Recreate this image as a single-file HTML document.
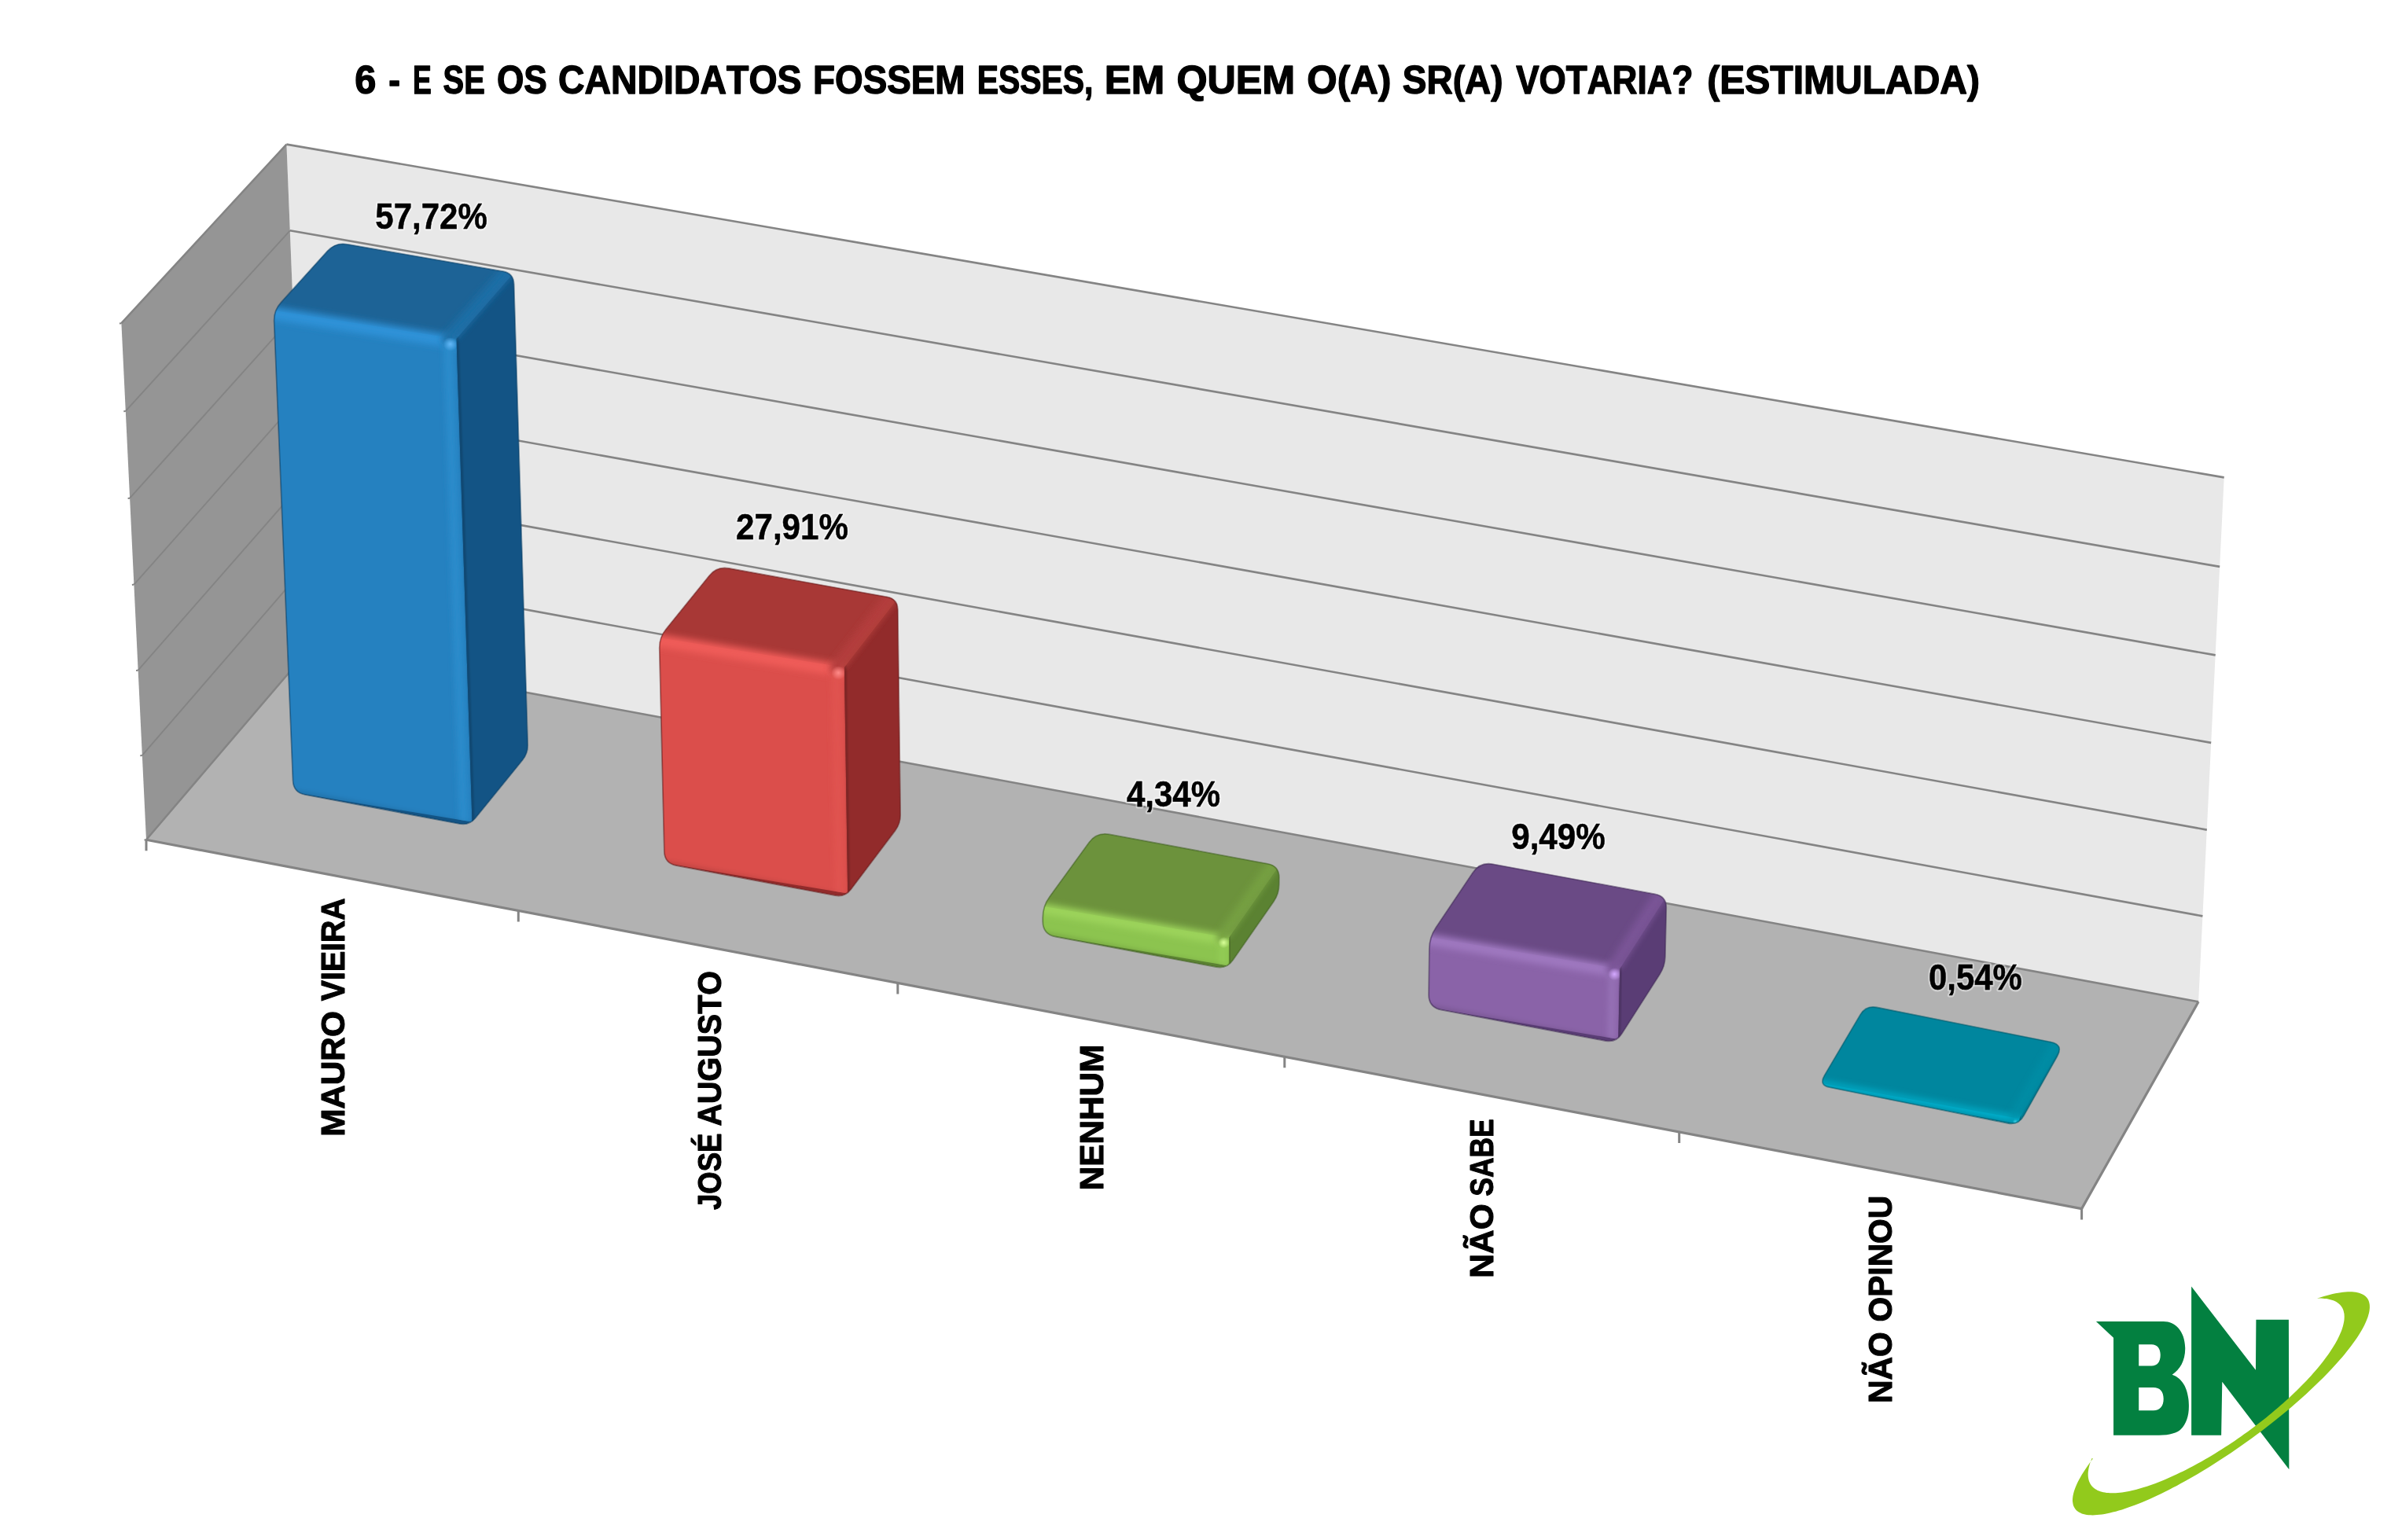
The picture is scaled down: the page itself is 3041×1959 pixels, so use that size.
<!DOCTYPE html>
<html><head><meta charset="utf-8"><style>html,body{margin:0;padding:0;background:#fff;overflow:hidden}svg{display:block}</style></head>
<body><svg width="3041" height="1959" viewBox="0 0 3041 1959">
<defs><clipPath id="c1"><path d="M388.3,1010.4Q373.2,1007.6 372.6,992.2L348.7,408.6Q348.1,394.6 357.5,384.2L416.3,319.1Q426.6,307.6 441.8,310.3L639.4,344.7Q653.2,347.1 653.6,361.1L671.1,946.6Q671.5,957.8 664.4,966.5L604.7,1040.0Q596.8,1049.8 584.4,1047.4Z"/></clipPath><clipPath id="c2"><polygon points="373.2,1007.6 600.5,1045.1 580.5,430.4 348.1,394.6"/></clipPath><clipPath id="c3"><polygon points="373.2,1007.6 600.5,1045.1 580.5,430.4 348.1,394.6 580.5,430.4 653.2,347.1 426.6,307.6 348.1,394.6"/></clipPath><radialGradient id="s4"><stop offset="0" stop-color="#62b8f8" stop-opacity="1"/><stop offset="0.5" stop-color="#62b8f8" stop-opacity="0.5"/><stop offset="1" stop-color="#62b8f8" stop-opacity="0"/></radialGradient><clipPath id="c5"><path d="M860.4,1099.5Q845.2,1096.6 844.9,1081.2L838.8,823.7Q838.4,809.7 847.2,798.8L902.2,730.7Q911.9,718.8 927.0,721.5L1127.9,757.8Q1141.6,760.3 1141.8,774.3L1145.1,1035.0Q1145.2,1046.2 1138.5,1055.1L1082.1,1129.9Q1074.5,1139.9 1062.2,1137.6Z"/></clipPath><clipPath id="c6"><polygon points="845.2,1096.6 1078.2,1135.1 1073.9,847.4 838.4,809.7"/></clipPath><clipPath id="c7"><polygon points="845.2,1096.6 1078.2,1135.1 1073.9,847.4 838.4,809.7 1073.9,847.4 1141.6,760.3 911.9,718.8 838.4,809.7"/></clipPath><radialGradient id="s8"><stop offset="0" stop-color="#ff8a88" stop-opacity="1"/><stop offset="0.5" stop-color="#ff8a88" stop-opacity="0.5"/><stop offset="1" stop-color="#ff8a88" stop-opacity="0"/></radialGradient><clipPath id="c9"><path d="M1342.6,1190.5Q1326.4,1187.4 1326.3,1170.9L1326.3,1166.8Q1326.2,1151.8 1335.0,1139.7L1385.1,1070.7Q1394.8,1057.4 1411.0,1060.4L1612.1,1097.8Q1626.9,1100.5 1626.8,1115.5L1626.7,1124.0Q1626.7,1136.0 1619.8,1145.9L1567.9,1220.5Q1560.2,1231.6 1546.9,1229.1Z"/></clipPath><clipPath id="c10"><polygon points="1326.4,1187.4 1562.9,1227.6 1563.0,1191.9 1326.2,1151.8"/></clipPath><clipPath id="c11"><polygon points="1326.4,1187.4 1562.9,1227.6 1563.0,1191.9 1326.2,1151.8 1563.0,1191.9 1626.9,1100.5 1394.8,1057.4 1326.2,1151.8"/></clipPath><radialGradient id="s12"><stop offset="0" stop-color="#d8ff98" stop-opacity="1"/><stop offset="0.5" stop-color="#d8ff98" stop-opacity="0.5"/><stop offset="1" stop-color="#d8ff98" stop-opacity="0"/></radialGradient><clipPath id="c13"><path d="M1833.2,1283.1Q1817.0,1280.0 1817.2,1263.5L1817.9,1205.8Q1818.1,1190.8 1826.4,1178.3L1873.3,1108.5Q1882.5,1094.8 1898.7,1097.8L2104.8,1135.9Q2119.6,1138.7 2119.2,1153.7L2117.8,1215.6Q2117.5,1227.6 2111.0,1237.7L2062.6,1313.6Q2055.4,1325.0 2042.1,1322.5Z"/></clipPath><clipPath id="c14"><polygon points="1817.0,1280.0 2058.3,1320.5 2060.2,1230.9 1818.1,1190.8"/></clipPath><clipPath id="c15"><polygon points="1817.0,1280.0 2058.3,1320.5 2060.2,1230.9 1818.1,1190.8 2060.2,1230.9 2119.6,1138.7 1882.5,1094.8 1818.1,1190.8"/></clipPath><radialGradient id="s16"><stop offset="0" stop-color="#d4a8ff" stop-opacity="1"/><stop offset="0.5" stop-color="#d4a8ff" stop-opacity="0.5"/><stop offset="1" stop-color="#d4a8ff" stop-opacity="0"/></radialGradient><clipPath id="c17"><path d="M2327.0,1373.1Q2313.3,1370.4 2320.4,1358.3L2366.1,1280.8Q2373.2,1268.8 2387.0,1271.5L2608.2,1315.6Q2624.7,1318.9 2616.5,1333.6L2573.9,1409.3Q2567.0,1421.6 2553.3,1418.8Z"/></clipPath><clipPath id="c18"><polygon points="2313.2,1373.7 2568.2,1419.5 2568.5,1412.9 2313.4,1367.1"/></clipPath><clipPath id="c19"><polygon points="2313.2,1373.7 2568.2,1419.5 2568.5,1412.9 2313.4,1367.1 2568.5,1412.9 2624.8,1315.7 2373.2,1268.8 2313.4,1367.1"/></clipPath><radialGradient id="s20"><stop offset="0" stop-color="#40d0e8" stop-opacity="1"/><stop offset="0.5" stop-color="#40d0e8" stop-opacity="0.5"/><stop offset="1" stop-color="#40d0e8" stop-opacity="0"/></radialGradient><filter id="bl1" x="-50%" y="-50%" width="200%" height="200%" filterUnits="objectBoundingBox"><feGaussianBlur stdDeviation="1"/></filter>
<filter id="bl3" filterUnits="userSpaceOnUse" x="0" y="0" width="3041" height="1959"><feGaussianBlur stdDeviation="3"/></filter>
<filter id="bl4" filterUnits="userSpaceOnUse" x="0" y="0" width="3041" height="1959"><feGaussianBlur stdDeviation="4.5"/></filter></defs>
<rect width="3041" height="1959" fill="#fff"/>
<polygon points="390.2,829.2 364.4,183.6 2828.7,607.4 2796.1,1274.3" fill="#e8e8e8"/>
<polygon points="186.0,1068.2 154.4,411.2 364.4,183.6 390.2,829.2" fill="#959595"/>
<polygon points="186.0,1068.2 2647.6,1537.6 2796.1,1274.3 390.2,829.2" fill="#b2b2b2"/>
<path d="M390.2,829.2L2796.1,1274.3M386.0,723.7L2801.4,1165.4M381.8,617.3L2806.8,1055.6M377.5,510.2L2812.2,944.9M373.1,402.2L2817.7,833.4M368.8,293.3L2823.2,720.9M364.4,183.6L2828.7,607.4" fill="none" stroke="#848484" stroke-width="2.6" stroke-linejoin="round"/>
<path d="M180.8,960.9L386.0,723.7M175.6,852.7L381.8,617.3M170.4,743.6L377.5,510.2M165.1,633.7L373.1,402.2M159.8,522.9L368.8,293.3" fill="none" stroke="#848484" stroke-width="1.9"/>
<path d="M154.4,411.2L364.4,183.6M186.0,1068.2L390.2,829.2" fill="none" stroke="#848484" stroke-width="2.5"/>
<path d="M183.5,1068.5L186.0,1068.2M178.3,961.2L180.8,960.9M173.1,853.0L175.6,852.7M167.9,743.9L170.4,743.6M162.6,634.0L165.1,633.7M157.3,523.2L159.8,522.9M151.9,411.5L154.4,411.2" stroke="#848484" stroke-width="2"/>
<path d="M186.0,1068.2L2647.6,1537.6L2796.1,1274.3" fill="none" stroke="#848484" stroke-width="3.2" stroke-linejoin="round"/>
<path d="M186.0,1068.2L186.0,1082.2M659.3,1158.5L659.3,1172.5M1141.8,1250.5L1141.8,1264.5M1633.8,1344.3L1633.8,1358.3M2135.7,1440.0L2135.7,1454.0M2647.6,1537.6L2647.6,1551.6" stroke="#848484" stroke-width="3"/>
<g transform="translate(0,0.5)"><g clip-path="url(#c1)"><path d="M388.3,1010.4Q373.2,1007.6 372.6,992.2L348.7,408.6Q348.1,394.6 357.5,384.2L416.3,319.1Q426.6,307.6 441.8,310.3L639.4,344.7Q653.2,347.1 653.6,361.1L671.1,946.6Q671.5,957.8 664.4,966.5L604.7,1040.0Q596.8,1049.8 584.4,1047.4Z" fill="#135485"/><polygon points="348.1,394.6 580.5,430.4 653.2,347.1 426.6,307.6" fill="#1d6396"/><polygon points="373.2,1007.6 600.5,1045.1 580.5,430.4 348.1,394.6" fill="#2581c0"/><g clip-path="url(#c3)"><path d="M318.7,393.4L610.3,439.6" stroke="#2d92d8" stroke-width="16.0" stroke-opacity="1" stroke-linecap="round" filter="url(#bl4)"/><path d="M569.7,431.1L644.3,345.5" stroke="#1f6ea6" stroke-width="16.0" stroke-opacity="1" stroke-linecap="round" filter="url(#bl4)"/><path d="M570.0,439.7L589.8,1046.5" stroke="#2a8bcb" stroke-width="12.0" stroke-opacity="1" stroke-linecap="round" filter="url(#bl3)"/><path d="M353.5,1004.1L616.5,1053.2" stroke="#000" stroke-width="6" stroke-opacity="0.15" stroke-linecap="round" filter="url(#bl3)"/></g><polygon points="600.5,1045.1 580.5,430.4 653.2,347.1 671.5,957.8" fill="#135485"/><path d="M581.9,428.9L601.9,1043.6" stroke="#000" stroke-width="3" stroke-opacity="0.18" stroke-linecap="round" filter="url(#bl1)"/><path d="M580.4,427.4L653.1,344.1" stroke="#1f6ea6" stroke-width="8.0" stroke-opacity="0.7" stroke-linecap="round" filter="url(#bl3)"/><g clip-path="url(#c2)"><circle cx="572.8" cy="437.2" r="9.0" fill="url(#s4)"/></g></g><path d="M388.3,1010.4Q373.2,1007.6 372.6,992.2L348.7,408.6Q348.1,394.6 357.5,384.2L416.3,319.1Q426.6,307.6 441.8,310.3L639.4,344.7Q653.2,347.1 653.6,361.1L671.1,946.6Q671.5,957.8 664.4,966.5L604.7,1040.0Q596.8,1049.8 584.4,1047.4Z" fill="none" stroke="#0b3f66" stroke-width="1.8" stroke-opacity="0.55"/></g><g transform="translate(0,1.5)"><g clip-path="url(#c5)"><path d="M860.4,1099.5Q845.2,1096.6 844.9,1081.2L838.8,823.7Q838.4,809.7 847.2,798.8L902.2,730.7Q911.9,718.8 927.0,721.5L1127.9,757.8Q1141.6,760.3 1141.8,774.3L1145.1,1035.0Q1145.2,1046.2 1138.5,1055.1L1082.1,1129.9Q1074.5,1139.9 1062.2,1137.6Z" fill="#922b2b"/><polygon points="838.4,809.7 1073.9,847.4 1141.6,760.3 911.9,718.8" fill="#a83836"/><polygon points="845.2,1096.6 1078.2,1135.1 1073.9,847.4 838.4,809.7" fill="#db4e4b"/><g clip-path="url(#c7)"><path d="M809.0,808.3L1103.5,856.8" stroke="#ef5b58" stroke-width="16.0" stroke-opacity="1" stroke-linecap="round" filter="url(#bl4)"/><path d="M1063.2,848.1L1132.8,758.7" stroke="#b43e3c" stroke-width="16.0" stroke-opacity="1" stroke-linecap="round" filter="url(#bl4)"/><path d="M1063.4,856.9L1067.6,1136.7" stroke="#e05350" stroke-width="12.0" stroke-opacity="1" stroke-linecap="round" filter="url(#bl3)"/><path d="M825.5,1093.0L1094.2,1143.5" stroke="#000" stroke-width="6" stroke-opacity="0.15" stroke-linecap="round" filter="url(#bl3)"/></g><polygon points="1078.2,1135.1 1073.9,847.4 1141.6,760.3 1145.2,1046.2" fill="#922b2b"/><path d="M1075.1,845.8L1079.4,1133.5" stroke="#000" stroke-width="3" stroke-opacity="0.18" stroke-linecap="round" filter="url(#bl1)"/><path d="M1073.8,844.4L1141.6,757.3" stroke="#b43e3c" stroke-width="8.0" stroke-opacity="0.7" stroke-linecap="round" filter="url(#bl3)"/><g clip-path="url(#c6)"><circle cx="1066.3" cy="854.4" r="9.0" fill="url(#s8)"/></g></g><path d="M860.4,1099.5Q845.2,1096.6 844.9,1081.2L838.8,823.7Q838.4,809.7 847.2,798.8L902.2,730.7Q911.9,718.8 927.0,721.5L1127.9,757.8Q1141.6,760.3 1141.8,774.3L1145.1,1035.0Q1145.2,1046.2 1138.5,1055.1L1082.1,1129.9Q1074.5,1139.9 1062.2,1137.6Z" fill="none" stroke="#6a1d1d" stroke-width="1.8" stroke-opacity="0.55"/></g><g transform="translate(0,1)"><g clip-path="url(#c9)"><path d="M1342.6,1190.5Q1326.4,1187.4 1326.3,1170.9L1326.3,1166.8Q1326.2,1151.8 1335.0,1139.7L1385.1,1070.7Q1394.8,1057.4 1411.0,1060.4L1612.1,1097.8Q1626.9,1100.5 1626.8,1115.5L1626.7,1124.0Q1626.7,1136.0 1619.8,1145.9L1567.9,1220.5Q1560.2,1231.6 1546.9,1229.1Z" fill="#5b8232"/><polygon points="1326.2,1151.8 1563.0,1191.9 1626.9,1100.5 1394.8,1057.4" fill="#6c923c"/><polygon points="1326.4,1187.4 1562.9,1227.6 1563.0,1191.9 1326.2,1151.8" fill="#8cc44f"/><g clip-path="url(#c11)"><path d="M1296.7,1149.5L1592.5,1200.6" stroke="#9dd45c" stroke-width="12.8" stroke-opacity="1" stroke-linecap="round" filter="url(#bl4)"/><path d="M1553.2,1191.7L1618.0,1098.9" stroke="#76a042" stroke-width="12.8" stroke-opacity="1" stroke-linecap="round" filter="url(#bl4)"/><path d="M1554.8,1200.8L1554.7,1228.5" stroke="#92cb55" stroke-width="9.600000000000001" stroke-opacity="1" stroke-linecap="round" filter="url(#bl3)"/><path d="M1306.7,1183.7L1579.8,1235.3" stroke="#000" stroke-width="6" stroke-opacity="0.15" stroke-linecap="round" filter="url(#bl3)"/></g><polygon points="1562.9,1227.6 1563.0,1191.9 1626.9,1100.5 1626.7,1136.0" fill="#5b8232"/><path d="M1564.2,1190.3L1564.1,1226.0" stroke="#000" stroke-width="3" stroke-opacity="0.18" stroke-linecap="round" filter="url(#bl1)"/><path d="M1563.0,1188.9L1626.8,1097.5" stroke="#76a042" stroke-width="6.4" stroke-opacity="0.7" stroke-linecap="round" filter="url(#bl3)"/><g clip-path="url(#c10)"><circle cx="1556.4" cy="1198.1" r="7.2" fill="url(#s12)"/></g></g><path d="M1342.6,1190.5Q1326.4,1187.4 1326.3,1170.9L1326.3,1166.8Q1326.2,1151.8 1335.0,1139.7L1385.1,1070.7Q1394.8,1057.4 1411.0,1060.4L1612.1,1097.8Q1626.9,1100.5 1626.8,1115.5L1626.7,1124.0Q1626.7,1136.0 1619.8,1145.9L1567.9,1220.5Q1560.2,1231.6 1546.9,1229.1Z" fill="none" stroke="#3f6020" stroke-width="1.8" stroke-opacity="0.55"/></g><g transform="translate(0,1.5)"><g clip-path="url(#c13)"><path d="M1833.2,1283.1Q1817.0,1280.0 1817.2,1263.5L1817.9,1205.8Q1818.1,1190.8 1826.4,1178.3L1873.3,1108.5Q1882.5,1094.8 1898.7,1097.8L2104.8,1135.9Q2119.6,1138.7 2119.2,1153.7L2117.8,1215.6Q2117.5,1227.6 2111.0,1237.7L2062.6,1313.6Q2055.4,1325.0 2042.1,1322.5Z" fill="#5a3d75"/><polygon points="1818.1,1190.8 2060.2,1230.9 2119.6,1138.7 1882.5,1094.8" fill="#6a4a85"/><polygon points="1817.0,1280.0 2058.3,1320.5 2060.2,1230.9 1818.1,1190.8" fill="#8a63a8"/><g clip-path="url(#c15)"><path d="M1788.5,1188.8L2089.6,1240.0" stroke="#9f78c0" stroke-width="14.4" stroke-opacity="1" stroke-linecap="round" filter="url(#bl4)"/><path d="M2050.1,1231.3L2110.8,1137.0" stroke="#7a5597" stroke-width="14.4" stroke-opacity="1" stroke-linecap="round" filter="url(#bl4)"/><path d="M2051.0,1240.3L2049.2,1321.8" stroke="#9470b4" stroke-width="10.8" stroke-opacity="1" stroke-linecap="round" filter="url(#bl3)"/><path d="M1797.3,1276.3L2075.0,1328.7" stroke="#000" stroke-width="6" stroke-opacity="0.15" stroke-linecap="round" filter="url(#bl3)"/></g><polygon points="2058.3,1320.5 2060.2,1230.9 2119.6,1138.7 2117.5,1227.6" fill="#5a3d75"/><path d="M2061.3,1229.3L2059.4,1318.8" stroke="#000" stroke-width="3" stroke-opacity="0.18" stroke-linecap="round" filter="url(#bl1)"/><path d="M2060.2,1227.9L2119.6,1135.7" stroke="#7a5597" stroke-width="7.2" stroke-opacity="0.7" stroke-linecap="round" filter="url(#bl3)"/><g clip-path="url(#c14)"><circle cx="2053.3" cy="1237.7" r="8.1" fill="url(#s16)"/></g></g><path d="M1833.2,1283.1Q1817.0,1280.0 1817.2,1263.5L1817.9,1205.8Q1818.1,1190.8 1826.4,1178.3L1873.3,1108.5Q1882.5,1094.8 1898.7,1097.8L2104.8,1135.9Q2119.6,1138.7 2119.2,1153.7L2117.8,1215.6Q2117.5,1227.6 2111.0,1237.7L2062.6,1313.6Q2055.4,1325.0 2042.1,1322.5Z" fill="none" stroke="#3f2a55" stroke-width="1.8" stroke-opacity="0.55"/></g><g transform="translate(0,10)"><g clip-path="url(#c17)"><path d="M2327.0,1373.1Q2313.3,1370.4 2320.4,1358.3L2366.1,1280.8Q2373.2,1268.8 2387.0,1271.5L2608.2,1315.6Q2624.7,1318.9 2616.5,1333.6L2573.9,1409.3Q2567.0,1421.6 2553.3,1418.8Z" fill="#007a92"/><polygon points="2313.4,1367.1 2568.5,1412.9 2624.8,1315.7 2373.2,1268.8" fill="#00869e"/><polygon points="2313.2,1373.7 2568.2,1419.5 2568.5,1412.9 2313.4,1367.1" fill="#00a0bc"/><g clip-path="url(#c19)"><path d="M2283.9,1362.5L2598.0,1419.4" stroke="#00b4d0" stroke-width="6.4" stroke-opacity="1" stroke-linecap="round" filter="url(#bl4)"/><path d="M2560.0,1410.7L2616.0,1314.0" stroke="#0090a8" stroke-width="6.4" stroke-opacity="1" stroke-linecap="round" filter="url(#bl4)"/><path d="M2564.4,1420.5L2564.3,1419.0" stroke="#00a8c4" stroke-width="4.800000000000001" stroke-opacity="1" stroke-linecap="round" filter="url(#bl3)"/><path d="M2293.5,1370.0L2586.7,1425.3" stroke="#000" stroke-width="6" stroke-opacity="0.15" stroke-linecap="round" filter="url(#bl3)"/></g><polygon points="2568.2,1419.5 2568.5,1412.9 2624.8,1315.7 2624.6,1322.2" fill="#007a92"/><path d="M2569.5,1411.2L2569.2,1417.7" stroke="#000" stroke-width="3" stroke-opacity="0.18" stroke-linecap="round" filter="url(#bl1)"/><path d="M2568.6,1409.9L2624.9,1312.7" stroke="#0090a8" stroke-width="3.2" stroke-opacity="0.7" stroke-linecap="round" filter="url(#bl3)"/><g clip-path="url(#c18)"><circle cx="2563.3" cy="1417.2" r="3.6" fill="url(#s20)"/></g></g><path d="M2327.0,1373.1Q2313.3,1370.4 2320.4,1358.3L2366.1,1280.8Q2373.2,1268.8 2387.0,1271.5L2608.2,1315.6Q2624.7,1318.9 2616.5,1333.6L2573.9,1409.3Q2567.0,1421.6 2553.3,1418.8Z" fill="none" stroke="#005a6a" stroke-width="1.8" stroke-opacity="0.55"/></g>
<g opacity="0.999" font-family="Liberation Sans, sans-serif" font-weight="bold" style="font-kerning:none"><g fill="none" stroke="#fff" stroke-width="4.5" stroke-opacity="0.4" stroke-linejoin="round"><text transform="translate(451.29,118.90) scale(0.9632,1)" font-size="50.58" stroke-width="5.9">6</text><text transform="translate(494.18,118.90) scale(0.8776,1)" font-size="50.58" stroke-width="5.9">-</text><text transform="translate(525.11,118.90) scale(0.7052,1)" font-size="50.58" stroke-width="5.9">E</text><text transform="translate(563.60,118.90) scale(0.7869,1)" font-size="50.58" stroke-width="5.9">SE</text><text transform="translate(631.90,118.90) scale(0.8746,1)" font-size="50.58" stroke-width="5.9">OS</text><text transform="translate(710.04,118.90) scale(0.9179,1)" font-size="50.58" stroke-width="5.9">CANDIDATOS</text><text transform="translate(1034.07,118.90) scale(0.9058,1)" font-size="50.58" stroke-width="5.9">FOSSEM</text><text transform="translate(1242.63,118.90) scale(0.8085,1)" font-size="50.58" stroke-width="5.9">ESSES,</text><text transform="translate(1404.69,118.90) scale(1.0098,1)" font-size="50.58" stroke-width="5.9">EM</text><text transform="translate(1496.43,118.90) scale(0.9940,1)" font-size="50.58" stroke-width="5.9">QUEM</text><text transform="translate(1662.36,118.90) scale(0.9768,1)" font-size="50.58" stroke-width="5.9">O(A)</text><text transform="translate(1783.81,118.90) scale(0.9093,1)" font-size="50.58" stroke-width="5.9">SR(A)</text><text transform="translate(1928.21,118.90) scale(0.8712,1)" font-size="50.58" stroke-width="5.9">VOTARIA?</text><text transform="translate(2171.27,118.90) scale(0.9496,1)" font-size="50.58" stroke-width="5.9">(ESTIMULADA)</text><text transform="translate(477.34,291.35) scale(0.9202,1)" font-size="45.64" stroke-width="5.0">57,72%</text><text transform="translate(936.07,685.65) scale(0.9232,1)" font-size="45.64" stroke-width="5.0">27,91%</text><text transform="translate(1432.99,1025.95) scale(0.9202,1)" font-size="45.64" stroke-width="5.0">4,34%</text><text transform="translate(1922.17,1079.95) scale(0.9243,1)" font-size="45.64" stroke-width="5.0">9,49%</text><text transform="translate(2452.97,1259.25) scale(0.9180,1)" font-size="45.64" stroke-width="5.0">0,54%</text><text transform="translate(437.65,1273.15) rotate(-90) scale(0.9345,1)" font-size="42.01" stroke-width="5.6">VIEIRA</text><text transform="translate(437.65,1445.87) rotate(-90) scale(1.0064,1)" font-size="42.01" stroke-width="5.6">MAURO</text><text transform="translate(916.95,1432.47) rotate(-90) scale(0.9404,1)" font-size="42.01" stroke-width="5.6">AUGUSTO</text><text transform="translate(916.95,1539.07) rotate(-90) scale(0.8693,1)" font-size="42.01" stroke-width="5.6">JOSÉ</text><text transform="translate(1403.35,1514.27) rotate(-90) scale(1.0065,1)" font-size="42.01" stroke-width="5.6">NENHUM</text><text transform="translate(1899.45,1521.76) rotate(-90) scale(0.8438,1)" font-size="42.01" stroke-width="5.6">SABE</text><text transform="translate(1899.45,1625.69) rotate(-90) scale(1.0126,1)" font-size="42.01" stroke-width="5.6">NÃO</text><text transform="translate(2406.45,1681.44) rotate(-90) scale(0.9691,1)" font-size="42.01" stroke-width="5.6">OPINOU</text><text transform="translate(2406.45,1785.10) rotate(-90) scale(0.9736,1)" font-size="42.01" stroke-width="5.6">NÃO</text></g><g stroke-linejoin="round" stroke="#000"><text transform="translate(451.29,118.90) scale(0.9632,1)" font-size="50.58" stroke-width="1.4">6</text><text transform="translate(494.18,118.90) scale(0.8776,1)" font-size="50.58" stroke-width="1.4">-</text><text transform="translate(525.11,118.90) scale(0.7052,1)" font-size="50.58" stroke-width="1.4">E</text><text transform="translate(563.60,118.90) scale(0.7869,1)" font-size="50.58" stroke-width="1.4">SE</text><text transform="translate(631.90,118.90) scale(0.8746,1)" font-size="50.58" stroke-width="1.4">OS</text><text transform="translate(710.04,118.90) scale(0.9179,1)" font-size="50.58" stroke-width="1.4">CANDIDATOS</text><text transform="translate(1034.07,118.90) scale(0.9058,1)" font-size="50.58" stroke-width="1.4">FOSSEM</text><text transform="translate(1242.63,118.90) scale(0.8085,1)" font-size="50.58" stroke-width="1.4">ESSES,</text><text transform="translate(1404.69,118.90) scale(1.0098,1)" font-size="50.58" stroke-width="1.4">EM</text><text transform="translate(1496.43,118.90) scale(0.9940,1)" font-size="50.58" stroke-width="1.4">QUEM</text><text transform="translate(1662.36,118.90) scale(0.9768,1)" font-size="50.58" stroke-width="1.4">O(A)</text><text transform="translate(1783.81,118.90) scale(0.9093,1)" font-size="50.58" stroke-width="1.4">SR(A)</text><text transform="translate(1928.21,118.90) scale(0.8712,1)" font-size="50.58" stroke-width="1.4">VOTARIA?</text><text transform="translate(2171.27,118.90) scale(0.9496,1)" font-size="50.58" stroke-width="1.4">(ESTIMULADA)</text><text transform="translate(477.34,291.35) scale(0.9202,1)" font-size="45.64" stroke-width="0.5">57,72%</text><text transform="translate(936.07,685.65) scale(0.9232,1)" font-size="45.64" stroke-width="0.5">27,91%</text><text transform="translate(1432.99,1025.95) scale(0.9202,1)" font-size="45.64" stroke-width="0.5">4,34%</text><text transform="translate(1922.17,1079.95) scale(0.9243,1)" font-size="45.64" stroke-width="0.5">9,49%</text><text transform="translate(2452.97,1259.25) scale(0.9180,1)" font-size="45.64" stroke-width="0.5">0,54%</text><text transform="translate(437.65,1273.15) rotate(-90) scale(0.9345,1)" font-size="42.01" stroke-width="1.1">VIEIRA</text><text transform="translate(437.65,1445.87) rotate(-90) scale(1.0064,1)" font-size="42.01" stroke-width="1.1">MAURO</text><text transform="translate(916.95,1432.47) rotate(-90) scale(0.9404,1)" font-size="42.01" stroke-width="1.1">AUGUSTO</text><text transform="translate(916.95,1539.07) rotate(-90) scale(0.8693,1)" font-size="42.01" stroke-width="1.1">JOSÉ</text><text transform="translate(1403.35,1514.27) rotate(-90) scale(1.0065,1)" font-size="42.01" stroke-width="1.1">NENHUM</text><text transform="translate(1899.45,1521.76) rotate(-90) scale(0.8438,1)" font-size="42.01" stroke-width="1.1">SABE</text><text transform="translate(1899.45,1625.69) rotate(-90) scale(1.0126,1)" font-size="42.01" stroke-width="1.1">NÃO</text><text transform="translate(2406.45,1681.44) rotate(-90) scale(0.9691,1)" font-size="42.01" stroke-width="1.1">OPINOU</text><text transform="translate(2406.45,1785.10) rotate(-90) scale(0.9736,1)" font-size="42.01" stroke-width="1.1">NÃO</text></g></g>
<g transform="translate(2620,1600) scale(0.23310)">
<path fill="#038040" d="M197,348 L292,437 L292,968 L540,968 C600,968 640,955 660,935 C690,905 705,860 703,800 C700,700 660,655 612,638 C655,610 685,560 683,490 C680,400 630,348 565,348 Z M430,473 L500,473 C530,473 548,495 548,530 C548,570 530,590 500,590 L430,590 Z M430,708 L510,708 C545,708 565,730 565,770 C565,810 545,833 510,833 L430,833 Z" fill-rule="evenodd"/>
<path fill="#038040" d="M717,157 L717,968 L880,968 L885,677 L1250,1155 L1248,338 L1070,338 L1068,612 Z"/>
</g><path fill="#92ca1c" d="M2947.6,1651.5 L2951.6,1650.2 L2955.6,1649.0 L2959.4,1647.9 L2963.1,1646.9 L2966.8,1646.1 L2970.3,1645.3 L2973.7,1644.7 L2976.9,1644.2 L2980.1,1643.8 L2983.1,1643.5 L2986.0,1643.3 L2988.7,1643.3 L2991.3,1643.3 L2993.8,1643.5 L2996.2,1643.8 L2998.4,1644.2 L3000.5,1644.8 L3002.4,1645.4 L3004.2,1646.2 L3005.8,1647.0 L3007.3,1648.0 L3008.6,1649.1 L3009.8,1650.3 L3010.9,1651.6 L3011.8,1653.0 L3012.5,1654.6 L3013.1,1656.2 L3013.5,1657.9 L3013.8,1659.8 L3013.9,1661.7 L3013.9,1663.8 L3013.7,1665.9 L3013.4,1668.2 L3012.9,1670.5 L3012.2,1672.9 L3011.5,1675.4 L3010.5,1678.1 L3009.4,1680.8 L3008.2,1683.5 L3006.8,1686.4 L3005.2,1689.4 L3003.5,1692.4 L3001.7,1695.5 L2999.7,1698.7 L2997.6,1701.9 L2995.3,1705.2 L2992.9,1708.6 L2990.4,1712.0 L2987.7,1715.5 L2984.9,1719.1 L2982.0,1722.7 L2978.9,1726.4 L2975.7,1730.1 L2972.4,1733.8 L2969.0,1737.6 L2965.4,1741.5 L2961.8,1745.3 L2958.0,1749.2 L2954.1,1753.2 L2950.1,1757.1 L2946.0,1761.1 L2941.8,1765.1 L2937.6,1769.1 L2933.2,1773.2 L2928.7,1777.2 L2924.2,1781.3 L2919.6,1785.3 L2914.8,1789.4 L2910.1,1793.4 L2905.2,1797.5 L2900.3,1801.5 L2895.3,1805.5 L2890.3,1809.5 L2885.2,1813.5 L2880.1,1817.5 L2874.9,1821.4 L2869.7,1825.3 L2864.4,1829.2 L2859.1,1833.0 L2853.8,1836.8 L2848.5,1840.6 L2843.1,1844.3 L2837.8,1847.9 L2832.4,1851.5 L2827.0,1855.1 L2821.6,1858.6 L2816.2,1862.0 L2810.8,1865.4 L2805.5,1868.7 L2800.1,1872.0 L2794.8,1875.2 L2789.5,1878.3 L2784.2,1881.3 L2778.9,1884.2 L2773.7,1887.1 L2768.6,1889.9 L2763.4,1892.6 L2758.4,1895.2 L2753.3,1897.7 L2748.4,1900.2 L2743.5,1902.5 L2738.7,1904.7 L2733.9,1906.9 L2729.2,1908.9 L2724.6,1910.9 L2720.1,1912.7 L2715.6,1914.5 L2711.3,1916.1 L2707.0,1917.6 L2702.9,1919.1 L2698.8,1920.4 L2694.8,1921.6 L2691.0,1922.7 L2687.2,1923.6 L2683.6,1924.5 L2680.1,1925.3 L2676.7,1925.9 L2673.4,1926.4 L2670.2,1926.8 L2667.2,1927.1 L2664.3,1927.3 L2661.5,1927.4 L2658.9,1927.3 L2656.4,1927.2 L2654.0,1926.9 L2651.8,1926.5 L2649.7,1926.0 L2647.8,1925.4 L2646.0,1924.6 L2644.3,1923.8 L2642.8,1922.8 L2641.4,1921.7 L2640.2,1920.5 L2639.2,1919.2 L2638.3,1917.8 L2637.5,1916.3 L2636.9,1914.7 L2636.5,1913.0 L2636.2,1911.1 L2636.0,1909.2 L2636.0,1907.2 L2636.2,1905.0 L2636.5,1902.8 L2637.0,1900.5 L2637.6,1898.0 L2638.4,1895.5 L2639.3,1892.9 L2640.4,1890.2 L2641.6,1887.5 L2643.0,1884.6 L2644.5,1881.7 L2646.2,1878.7 L2648.0,1875.6 L2650.0,1872.4 L2652.1,1869.2 L2654.3,1865.9 L2656.7,1862.5 L2659.2,1859.0 L2661.9,1855.6 L2660.6,1855.0 L2659.7,1857.4 L2658.8,1859.8 L2658.0,1862.1 L2657.4,1864.3 L2656.8,1866.4 L2656.4,1868.6 L2656.1,1870.6 L2655.8,1872.6 L2655.7,1874.5 L2655.7,1876.4 L2655.8,1878.2 L2656.0,1879.9 L2656.3,1881.6 L2656.7,1883.2 L2657.2,1884.7 L2657.8,1886.1 L2658.5,1887.5 L2659.3,1888.8 L2660.2,1890.1 L2661.3,1891.2 L2662.4,1892.3 L2663.6,1893.3 L2665.0,1894.2 L2666.4,1895.1 L2667.9,1895.9 L2669.5,1896.6 L2671.3,1897.2 L2673.1,1897.7 L2675.0,1898.2 L2677.0,1898.6 L2679.1,1898.9 L2681.3,1899.1 L2683.6,1899.2 L2685.9,1899.3 L2688.4,1899.3 L2690.9,1899.2 L2693.6,1899.0 L2696.3,1898.7 L2699.0,1898.4 L2701.9,1898.0 L2704.8,1897.5 L2707.8,1896.9 L2710.9,1896.2 L2714.1,1895.5 L2717.3,1894.7 L2720.6,1893.8 L2723.9,1892.8 L2727.3,1891.8 L2730.8,1890.7 L2734.3,1889.5 L2737.9,1888.2 L2741.5,1886.9 L2745.2,1885.5 L2749.0,1884.0 L2752.7,1882.4 L2756.6,1880.8 L2760.4,1879.1 L2764.3,1877.3 L2768.2,1875.5 L2772.2,1873.6 L2776.2,1871.7 L2780.2,1869.7 L2784.3,1867.6 L2788.3,1865.4 L2792.4,1863.2 L2796.5,1861.0 L2800.7,1858.7 L2804.8,1856.3 L2808.9,1853.9 L2813.1,1851.4 L2817.2,1848.9 L2821.4,1846.3 L2825.5,1843.7 L2829.7,1841.1 L2833.8,1838.4 L2837.9,1835.7 L2842.1,1832.9 L2846.2,1830.1 L2850.3,1827.2 L2854.3,1824.3 L2858.4,1821.4 L2862.4,1818.5 L2866.4,1815.5 L2870.3,1812.5 L2874.2,1809.5 L2878.1,1806.4 L2882.0,1803.4 L2885.8,1800.3 L2889.5,1797.2 L2893.2,1794.1 L2896.9,1790.9 L2900.5,1787.8 L2904.1,1784.7 L2907.6,1781.5 L2911.1,1778.4 L2914.4,1775.2 L2917.8,1772.1 L2921.0,1768.9 L2924.2,1765.8 L2927.4,1762.6 L2930.4,1759.5 L2933.4,1756.4 L2936.3,1753.2 L2939.2,1750.2 L2941.9,1747.1 L2944.6,1744.0 L2947.2,1741.0 L2949.7,1738.0 L2952.1,1735.0 L2954.5,1732.0 L2956.7,1729.1 L2958.9,1726.1 L2961.0,1723.3 L2962.9,1720.4 L2964.8,1717.6 L2966.6,1714.8 L2968.3,1712.1 L2969.9,1709.4 L2971.4,1706.8 L2972.8,1704.2 L2974.1,1701.6 L2975.3,1699.1 L2976.4,1696.6 L2977.4,1694.2 L2978.3,1691.9 L2979.1,1689.6 L2979.8,1687.3 L2980.3,1685.2 L2980.8,1683.0 L2981.2,1681.0 L2981.5,1678.9 L2981.6,1677.0 L2981.7,1675.1 L2981.6,1673.3 L2981.5,1671.6 L2981.2,1669.9 L2980.8,1668.3 L2980.4,1666.7 L2979.8,1665.2 L2979.1,1663.8 L2978.3,1662.5 L2977.4,1661.3 L2976.4,1660.1 L2975.3,1659.0 L2974.1,1657.9 L2972.8,1657.0 L2971.4,1656.1 L2969.9,1655.3 L2968.3,1654.6 L2966.6,1653.9 L2964.8,1653.4 L2962.9,1652.9 L2961.0,1652.5 L2958.9,1652.1 L2956.7,1651.9 L2954.5,1651.7 L2952.1,1651.6 L2949.7,1651.6 L2947.2,1651.7Z"/>
</svg></body></html>
